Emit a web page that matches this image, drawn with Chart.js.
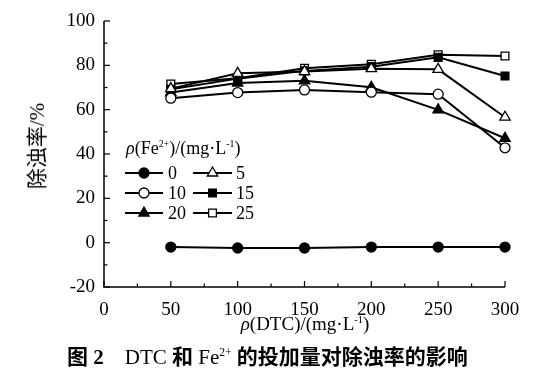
<!DOCTYPE html>
<html>
<head>
<meta charset="utf-8">
<script src="https://cdn.jsdelivr.net/npm/chart.js@4/dist/chart.umd.min.js"></script>
<style>
  html, body { margin: 0; padding: 0; background: #fff; }
  #wrap { position: relative; width: 560px; height: 373px; overflow: hidden; }
  #chart { position: absolute; left: 0; top: 0; }
  .lbl { position: absolute; font-family: "Liberation Serif", serif; color: #000; white-space: nowrap; }
  .cjk { font-family: "Noto Sans CJK SC", sans-serif; }
  sup { font-size: 0.55em; vertical-align: 0; position: relative; top: -0.7em; }
  #ytitle { left: 35px; top: 146px; font-size: 21px; transform: translate(-50%, -50%) rotate(-90deg); }
  #xtitle { left: 305px; top: 313px; font-size: 19px; }
  #caption { left: 67px; top: 340px; font-size: 21px; font-weight: bold; }
  #legtitle { left: 126px; top: 138px; font-size: 18px; }
</style>
</head>
<body>
<div id="wrap">
  <canvas id="chart" width="560" height="373"></canvas>
  <div class="lbl" id="ytitle"><span class="cjk">除浊率</span>/%</div>
  <div class="lbl" id="xtitle" style="transform: translateX(-50%);"><i>ρ</i>(DTC)/(mg·L<sup>-1</sup>)</div>
  <div class="lbl" id="legtitle"><i>ρ</i>(Fe<sup>2+</sup>)/(mg·L<sup>-1</sup>)</div>
  <div class="lbl" id="caption"><span class="cjk">图</span> 2&nbsp;&nbsp;&nbsp; <span style="font-weight:normal">DTC</span> <span class="cjk">和</span> <span style="font-weight:normal">Fe<sup>2+</sup></span> <span class="cjk">的投加量对除浊率的影响</span></div>
</div>
<script>
// ===== DATA =====
const dtcDose = [50, 100, 150, 200, 250, 300];
const feDoses = ['0', '5', '10', '15', '20', '25'];
const fe0 = [-2.0, -2.4, -2.4, -2.0, -2.0, -2.0];
const fe5 = [69.5, 76.4, 77.2, 78.5, 78.2, 56.6];
const fe10 = [65.2, 67.7, 68.9, 67.9, 67.0, 42.8];
const fe15 = [69.2, 74.0, 77.5, 79.4, 83.6, 75.2];
const fe20 = [67.7, 72.0, 73.0, 70.1, 59.9, 47.1];
const fe25 = [71.6, 74.2, 78.7, 80.5, 84.8, 84.2];
const xTicks = [0, 50, 100, 150, 200, 250, 300];
const yTicks = [-20, 0, 20, 40, 60, 80, 100];

const seriesValues = [fe0, fe5, fe10, fe15, fe20, fe25];
const markers = [
    { style: 'circle', fill: '#000', r: 5 },
    { style: 'triangle', fill: '#fff', r: 6 },
    { style: 'circle', fill: '#fff', r: 5 },
    { style: 'rect', fill: '#000', r: 5.5 },
    { style: 'triangle', fill: '#000', r: 6 },
    { style: 'rect', fill: '#fff', r: 5.5 },
];

const datasets = seriesValues.map((vals, i) => ({
    label: feDoses[i],
    data: dtcDose.map((x, j) => ({ x, y: vals[j] })),
    borderColor: '#000',
    borderWidth: 2,
    pointStyle: markers[i].style,
    pointRadius: markers[i].r,
    pointBackgroundColor: markers[i].fill,
    pointBorderColor: '#000',
    pointBorderWidth: 1.3,
    tension: 0,
    clip: false,
}));

// axes with inward ticks + in-plot legend
const axisPlugin = {
    id: 'axisPlugin',
    afterDraw(chart) {
        const ctx = chart.ctx;
        const xs = chart.scales.x, ys = chart.scales.y;
        const left = xs.getPixelForValue(0), right = xs.getPixelForValue(300);
        const bottom = ys.getPixelForValue(-20), top = ys.getPixelForValue(100);
        ctx.save();
        ctx.strokeStyle = '#000';
        ctx.lineWidth = 1.5;
        ctx.beginPath();
        ctx.moveTo(left, top);
        ctx.lineTo(left, bottom);
        ctx.lineTo(right, bottom);
        ctx.stroke();
        ctx.lineWidth = 1.2;
        for (let v = -20; v <= 100; v += 10) {
            const y = ys.getPixelForValue(v);
            const len = v % 20 === 0 ? 6 : 3.5;
            ctx.beginPath(); ctx.moveTo(left, y); ctx.lineTo(left + len, y); ctx.stroke();
        }
        for (let v = 0; v <= 300; v += 25) {
            const x = xs.getPixelForValue(v);
            const len = v % 50 === 0 ? 6 : 3.5;
            ctx.beginPath(); ctx.moveTo(x, bottom); ctx.lineTo(x, bottom - len); ctx.stroke();
        }

        // legend: 2 columns x 3 rows
        const rows = [173, 193, 213];
        const cols = [{ x0: 125, x1: 163, tx: 168 }, { x0: 193, x1: 232, tx: 236 }];
        ctx.font = '18px "Liberation Serif", serif';
        ctx.textBaseline = 'middle';
        ctx.fillStyle = '#000';
        chart.data.datasets.forEach((ds, i) => {
            const c = cols[i % 2], y = rows[Math.floor(i / 2)];
            ctx.lineWidth = 2;
            ctx.strokeStyle = '#000';
            ctx.beginPath(); ctx.moveTo(c.x0, y); ctx.lineTo(c.x1, y); ctx.stroke();
            ctx.fillStyle = ds.pointBackgroundColor;
            ctx.lineWidth = ds.pointBorderWidth;
            Chart.helpers.drawPoint(ctx, { pointStyle: ds.pointStyle, radius: ds.pointRadius, rotation: 0, borderWidth: ds.pointBorderWidth }, (c.x0 + c.x1) / 2, y);
            ctx.fillStyle = '#000';
            ctx.fillText(ds.label, c.tx, y + 1);
        });
        ctx.restore();
    }
};

new Chart(document.getElementById('chart'), {
    type: 'line',
    data: { datasets },
    options: {
        responsive: false,
        animation: false,
        layout: { padding: { top: 21, right: 55, left: 0, bottom: 0 } },
        plugins: { legend: { display: false }, tooltip: { enabled: false } },
        scales: {
            x: {
                type: 'linear', min: 0, max: 300,
                afterBuildTicks: s => { s.ticks = xTicks.map(v => ({ value: v })); },
                afterFit: s => { s.height = 86; },
                grid: { display: false },
                border: { display: false },
                ticks: { color: '#000', padding: 4, maxRotation: 0, font: { family: 'Liberation Serif', size: 19 } },
            },
            y: {
                min: -20, max: 100,
                afterBuildTicks: s => { s.ticks = yTicks.map(v => ({ value: v })); },
                afterFit: s => { s.width = 104; },
                grid: { display: false },
                border: { display: false },
                ticks: { color: '#000', padding: 1, font: { family: 'Liberation Serif', size: 19 } },
            }
        }
    },
    plugins: [axisPlugin]
});
</script>
</body>
</html>
